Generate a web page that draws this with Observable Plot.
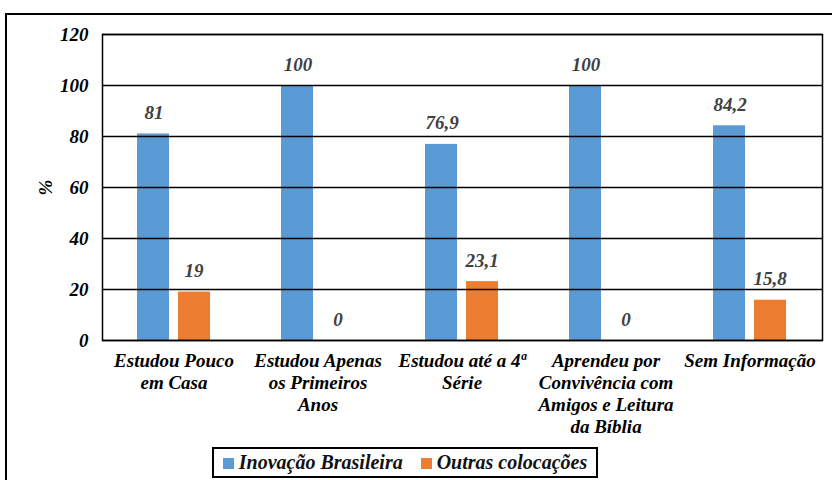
<!DOCTYPE html>
<html lang="pt">
<head>
<meta charset="utf-8">
<script src="https://cdn.jsdelivr.net/npm/d3@7"></script>
<script src="https://cdn.jsdelivr.net/npm/@observablehq/plot@0.6"></script>
<style>
  html, body { margin: 0; padding: 0; background: #fff; }
  body, div, span, svg, text { font-family: "Times New Roman", "Liberation Serif", serif; }
</style>
</head>
<body>
<div style="position:relative; width:832px; height:480px; overflow:hidden;">
  <div style="position:absolute; left:5px; top:13px; width:840px; height:480px; border:2px solid #000; box-sizing:border-box;"></div>
  <div id="chart" style="position:absolute; left:0; top:0;"></div>
  <div id="legend" style="position:absolute; left:212px; top:447px; width:386px; height:31px; border:2px solid #000; box-sizing:border-box; background:#fff; font-family:'Times New Roman', 'Liberation Serif', serif; font-style:italic; font-weight:bold; font-size:20px; color:#111; text-align:center; line-height:27px; white-space:nowrap;"></div>
</div>
<script>
const categories = [
  "Estudou Pouco\nem Casa",
  "Estudou Apenas\nos Primeiros\nAnos",
  "Estudou até a 4ª\nSérie",
  "Aprendeu por\nConvivência com\nAmigos e Leitura\nda Bíblia",
  "Sem Informação"
];
const seriesNames = ["Inovação Brasileira", "Outras colocações"];
const inovacao = [81, 100, 76.9, 100, 84.2];
const outras = [19, 0, 23.1, 0, 15.8];
const yTicks = [0, 20, 40, 60, 80, 100, 120];
const colors = ["#5B9BD5", "#ED7D31"];

const fmt = v => String(v).replace(".", ",");
const blueData = categories.map((c, i) => ({cat: c, v: inovacao[i]}));
const orangeData = categories.map((c, i) => ({cat: c, v: outras[i]}));
const FONT = "'Times New Roman', 'Liberation Serif', serif";

const chart = Plot.plot({
  width: 832,
  height: 440,
  marginLeft: 102,
  marginRight: 10,
  marginTop: 34,
  marginBottom: 100,
  style: { fontFamily: FONT, fontStyle: "italic", fontWeight: "bold", fontSize: "19px", background: "transparent" },
  x: { domain: categories, paddingInner: 0.49, paddingOuter: 0.245, label: null },
  y: { domain: [0, 120], label: null },
  marks: [
    Plot.barY(blueData, { x: "cat", y: "v", fill: colors[0], insetRight: 41 }),
    Plot.barY(orangeData, { x: "cat", y: "v", fill: colors[1], insetLeft: 41 }),
    Plot.ruleY(yTicks, { stroke: "#000", strokeWidth: 1.5 }),
    Plot.frame({ stroke: "#000", strokeWidth: 1.5 }),
    Plot.text(blueData, { x: "cat", y: "v", text: d => fmt(d.v), dx: -20, dy: -21, fill: "#404040", fontSize: 19 }),
    Plot.text(orangeData, { x: "cat", y: "v", text: d => fmt(d.v), dx: 20, dy: -21, fill: "#404040", fontSize: 19 }),
    Plot.axisY({ ticks: yTicks, tickSize: 0, tickPadding: 14, tickFormat: d => String(d), label: "%", labelAnchor: "center", labelArrow: "none", labelOffset: 64, fontSize: 19 }),
    Plot.axisX({ tickSize: 0, tickPadding: 11, lineHeight: 1.15, label: null, fontSize: 19 })
  ]
});
chart.querySelectorAll("text, g").forEach(el => {
  el.setAttribute("font-family", FONT);
  el.style.fontFamily = FONT;
});
document.getElementById("chart").appendChild(chart);

const legend = document.getElementById("legend");
seriesNames.forEach((n, i) => {
  const sw = document.createElement("span");
  sw.style.cssText = "display:inline-block; width:11px; height:11px; margin:0 5px 0 " + (i ? "18px" : "0") + "; background:" + colors[i] + ";";
  legend.appendChild(sw);
  legend.appendChild(document.createTextNode(n));
});
</script>
</body>
</html>
